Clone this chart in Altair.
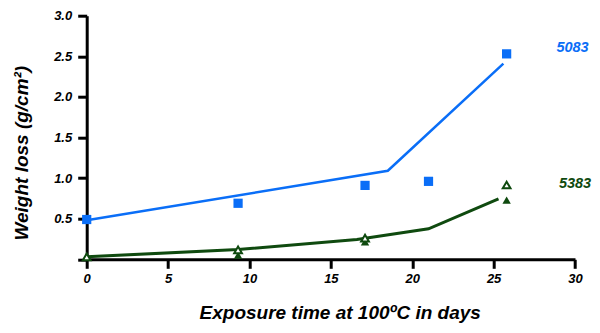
import altair as alt
import pandas as pd

# Measured data (days, weight loss g/cm^2)
days_5083 = [0, 9.3, 17.1, 21.0, 25.8]
loss_5083 = [0.49, 0.69, 0.91, 0.96, 2.53]

fit_5083_days = [0, 18.5, 25.6]
fit_5083_loss = [0.48, 1.09, 2.41]

days_5383_open = [0, 9.3, 17.1, 25.8]
loss_5383_open = [0.03, 0.115, 0.26, 0.915]

days_5383_filled = [9.3, 17.1, 25.8]
loss_5383_filled = [0.05, 0.215, 0.73]

fit_5383_days = [0, 9.3, 16.6, 21.0, 25.3]
fit_5383_loss = [0.03, 0.12, 0.245, 0.375, 0.745]

series_labels = ["5083", "5383"]
label_days = [29.85, 30.0]
label_loss = [2.6, 0.93]

BLUE = "#0a6ef7"
GREEN = "#0f4a0f"
FONT = "Liberation Sans"

x_ticks = [0, 5, 10, 15, 20, 25, 30]
y_ticks = [0, 0.5, 1.0, 1.5, 2.0, 2.5, 3.0]

xs = alt.Scale(domain=[0, 30], nice=False, zero=False)
ys = alt.Scale(domain=[0, 3.0], nice=False, zero=False)

x_axis = alt.Axis(
    values=x_ticks, title="Exposure time at 100ºC in days", grid=False,
    domainWidth=3, domainColor="black", tickWidth=3, tickColor="black", tickSize=9,
    labelFont=FONT, labelFontSize=13, labelFontStyle="italic", labelFontWeight="bold",
    labelColor="black", labelPadding=4, labelFlush=False,
    titleFont=FONT, titleFontSize=19, titleFontStyle="italic", titleFontWeight="bold",
    titleColor="black", titleX=253, titleY=53, titleBaseline="middle", titleAlign="center",
)
y_axis = alt.Axis(
    values=y_ticks, title="Weight loss (g/cm²)", grid=False,
    labelExpr="datum.value == 0 ? '' : format(datum.value, '.1f')",
    domainWidth=3, domainColor="black", tickWidth=3, tickColor="black", tickSize=9,
    labelFont=FONT, labelFontSize=13, labelFontStyle="italic", labelFontWeight="bold",
    labelColor="black", labelPadding=6, labelFlush=False,
    titleFont=FONT, titleFontSize=19, titleFontStyle="italic", titleFontWeight="bold",
    titleColor="black", titleAngle=-90, titleX=-65, titleY=137,
    titleBaseline="middle", titleAlign="center",
)

def df(xv, yv):
    return pd.DataFrame({"days": xv, "loss": yv})

base_x = alt.X("days:Q", scale=xs, axis=x_axis)
base_y = alt.Y("loss:Q", scale=ys, axis=y_axis)

line_5083 = alt.Chart(df(fit_5083_days, fit_5083_loss)).mark_line(
    color=BLUE, strokeWidth=2.5).encode(x=base_x, y=base_y)
line_5383 = alt.Chart(df(fit_5383_days, fit_5383_loss)).mark_line(
    color=GREEN, strokeWidth=3).encode(x="days:Q", y="loss:Q")

sq_5083 = alt.Chart(df(days_5083, loss_5083)).mark_point(
    shape="square", filled=True, size=85, color=BLUE, opacity=1).encode(x="days:Q", y="loss:Q")
tri_filled = alt.Chart(df(days_5383_filled, loss_5383_filled)).mark_point(
    shape="triangle-up", filled=True, size=70, color=GREEN, opacity=1).encode(x="days:Q", y="loss:Q")
tri_open = alt.Chart(df(days_5383_open, loss_5383_open)).mark_point(
    shape="triangle-up", filled=True, size=60, fill="white", stroke=GREEN,
    strokeWidth=2, opacity=1).encode(x="days:Q", y="loss:Q")

lab_df = pd.DataFrame({"days": label_days, "loss": label_loss, "name": series_labels})
labels = alt.Chart(lab_df).mark_text(
    font=FONT, fontSize=14.5, fontStyle="italic", fontWeight="bold",
    align="center", baseline="middle").encode(
    x="days:Q", y="loss:Q", text="name:N",
    color=alt.Color("name:N", scale=alt.Scale(domain=series_labels, range=[BLUE, GREEN]), legend=None))

chart = alt.layer(line_5083, line_5383, sq_5083, tri_filled, tri_open, labels).properties(
    width=488.3, height=243.6,
    autosize=alt.AutoSizeParams(type="none"),
    padding={"left": 78.7, "top": 7.7, "right": 17, "bottom": 66},
    background="white",
).configure_view(stroke=None)

chart.save("out.html", embed_options={"renderer": "svg", "actions": False})
